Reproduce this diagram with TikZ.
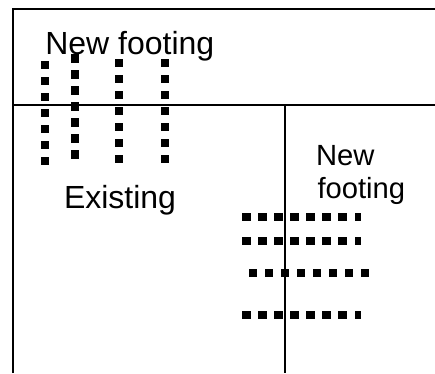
\documentclass[tikz,border=0pt]{standalone}
\usepackage{fontspec}
\setmainfont{Liberation Sans}
\tikzset{
  wall/.style={draw=black,line width=1.8pt},
  dotsq/.style={fill=black,draw=none},
  lbl/.style={inner sep=0pt,outer sep=0pt,text=black}
}
\newcommand{\dotbox}[3]{\fill[dotsq] ({#1-#3/2},{#2-4.3}) rectangle ({#1+#3/2},{#2+4.3});}
\begin{document}
\begin{tikzpicture}[x=1pt,y=-1pt]
\useasboundingbox (0,0) rectangle (435,373);
\fill[white] (0,0) rectangle (435,373);
% walls
\coordinate (tl) at (13,9);
\coordinate (tr) at (435,9);
\coordinate (bl) at (13,373);
\coordinate (ml) at (13,105);
\coordinate (mr) at (435,105);
\coordinate (vt) at (285,105);
\coordinate (vb) at (285,373);
\draw[wall] (bl) -- (tl) -- (tr);
\draw[wall] (ml) -- (mr);
\draw[wall] (vt) -- (vb);
% vertical rows of dots
\foreach \y in {0,...,6} {
  \dotbox{45}{65+16*\y}{8.6}
  \dotbox{75}{58.5+16*\y}{8.6}
  \dotbox{119}{63+16*\y}{8.6}
  \dotbox{165}{63+16*\y}{8.6}
}
% horizontal rows of dots
\foreach \r in {217,241,315} {
  \foreach \x in {0,...,6} { \dotbox{246.7+16*\x}{\r}{8.6} }
  \dotbox{358}{\r}{6.4}
}
\foreach \x in {0,...,7} { \dotbox{253+16*\x}{273}{8.6} }
% labels
\node[lbl,font=\fontsize{32}{36}\selectfont,anchor=base west] (t1) at (45.3,54) {New footing};
\node[lbl,font=\fontsize{32}{36}\selectfont,anchor=base west] (t2) at (64,208) {Existing};
\node[lbl,font=\fontsize{29.2}{33}\selectfont,anchor=base west] (t3) at (316,165) {New};
\node[lbl,font=\fontsize{29.2}{33}\selectfont,anchor=base west] (t4) at (317.5,198) {footing};
\end{tikzpicture}
\end{document}
